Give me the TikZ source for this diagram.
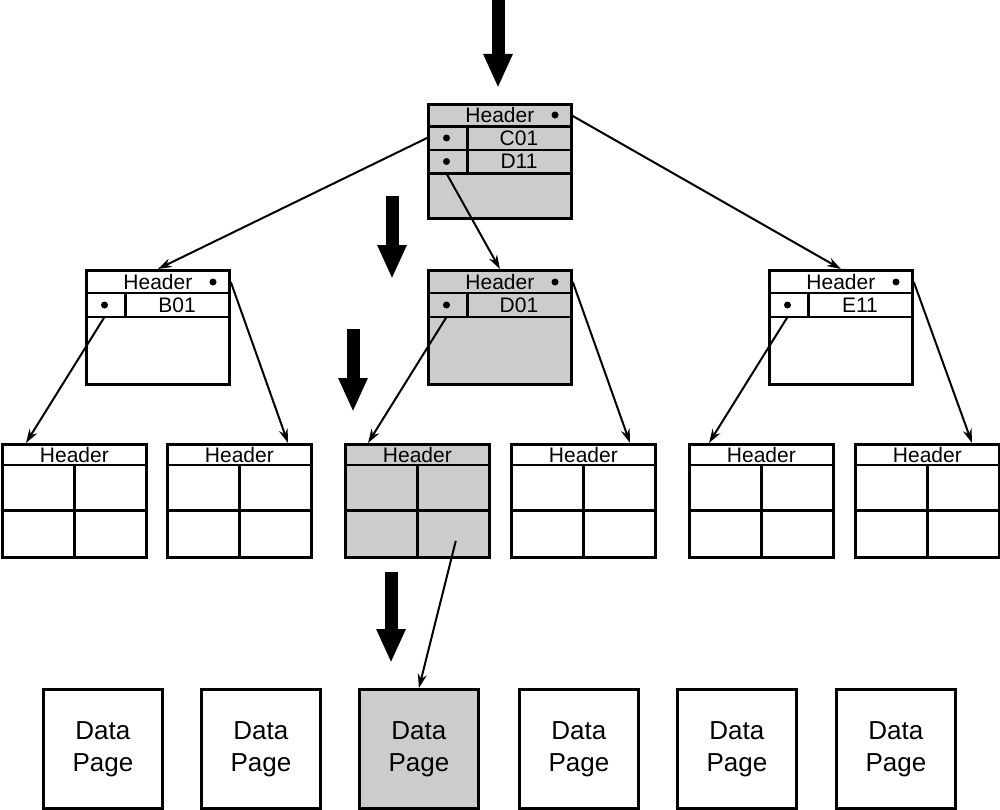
\documentclass[tikz,border=0pt]{standalone}
\usepackage{fontspec}
\setmainfont{Liberation Sans}
\usetikzlibrary{arrows.meta,calc,positioning}

\tikzset{
  ipage/.style={draw,line width=2.8pt,minimum width=143pt,minimum height=114pt,inner sep=0pt,anchor=north west},
  leaf/.style={draw,line width=2.8pt,minimum width=144pt,minimum height=113pt,inner sep=0pt,anchor=north west},
  datapage/.style={draw,line width=2.8pt,minimum width=119pt,minimum height=119pt,inner sep=0pt,anchor=north west,align=center,font=\fontsize{26}{32}\selectfont},
  txt/.style={inner sep=0pt,font=\fontsize{21}{24}\selectfont},
  rule/.style={line width=2.8pt},
  ptr/.style={circle,fill=black,inner sep=0pt,minimum size=7pt},
  link/.style={line width=2pt,-{Stealth[length=14pt,width=9pt]}},
  bigarrow/.style={line width=13pt,-{Triangle[length=34pt,width=27pt]}},
}

\begin{document}
\begin{tikzpicture}[x=1pt,y=-1pt]
  \useasboundingbox (0,0) rectangle (1000,810);

  % root page
  \node[ipage,fill=black!20] (root) at (427,103) {};
  \draw[rule] ($(root.north west)+(0,23.5)$) -- ($(root.north east)+(0,23.5)$);
  \draw[rule] ($(root.north west)+(0,47)$) -- ($(root.north east)+(0,47)$);
  \draw[rule] ($(root.north west)+(0,70.5)$) -- ($(root.north east)+(0,70.5)$);
  \draw[rule] ($(root.north west)+(40.5,23.5)$) -- ($(root.north west)+(40.5,70.5)$);
  \node[txt] (root-h) at ($(root.north)+(0,12)$) {Header};
  \node[ptr] (root-hp) at ($(root.north west)+(128,12)$) {};
  \node[ptr] (root-p1) at ($(root.north west)+(19.5,35)$) {};
  \node[txt] (root-k1) at ($(root.north west)+(92,35)$) {C01};
  \node[ptr] (root-p2) at ($(root.north west)+(19.5,58.5)$) {};
  \node[txt] (root-k2) at ($(root.north west)+(92,58.5)$) {D11};

  % intermediate pages
  \foreach \n/\x/\k/\c in {a/85/B01/white,b/427/D01/black!20,c/768/E11/white}{
    \node[ipage,fill=\c] (\n) at (\x,269) {};
    \draw[rule] ($(\n.north west)+(0,24)$) -- ($(\n.north east)+(0,24)$);
    \draw[rule] ($(\n.north west)+(0,48)$) -- ($(\n.north east)+(0,48)$);
    \draw[rule] ($(\n.north west)+(40.5,24)$) -- ($(\n.north west)+(40.5,48)$);
    \node[txt] (\n-h) at ($(\n.north)+(0,12.5)$) {Header};
    \node[ptr] (\n-hp) at ($(\n.north west)+(128,13)$) {};
    \node[ptr] (\n-p) at ($(\n.north west)+(19.5,36)$) {};
    \node[txt] (\n-k) at ($(\n.north west)+(92,36)$) {\k};
  }

  % leaf pages
  \foreach \i/\x/\c in {1/1/white,2/166/white,3/344/black!20,4/510/white,5/688/white,6/854/white}{
    \node[leaf,fill=\c] (l\i) at (\x,443) {};
    \draw[rule] ($(l\i.north west)+(0,22)$) -- ($(l\i.north east)+(0,22)$);
    \draw[rule] ($(l\i.north west)+(0,67.5)$) -- ($(l\i.north east)+(0,67.5)$);
    \draw[rule] ($(l\i.north)+(0,22)$) -- (l\i.south);
    \node[txt] (l\i-h) at ($(l\i.north)+(0,11.5)$) {Header};
  }

  % data pages
  \foreach \i/\x/\c in {1/42/white,2/200/white,3/358/black!20,4/518/white,5/676/white,6/835/white}
    \node[datapage,fill=\c] (d\i) at (\x,688) {Data\\Page};

  % pointers
  \draw[link] ($(root.north east)+(0,13)$) -- (c.north);
  \draw[link] ($(root.north west)+(0,35)$) -- (a.north);
  \draw[link] ($(root-p2)+(0,12)$) -- (b.north);
  \draw[link] ($(a-p)+(0,12)$) -- ($(l1.north west)+(25,0)$);
  \draw[link] ($(a.north east)+(0,13)$) -- ($(l2.north west)+(122,0)$);
  \draw[link] ($(b-p)+(0,12)$) -- ($(l3.north west)+(24,0)$);
  \draw[link] ($(b.north east)+(0,13)$) -- ($(l4.north west)+(120,0)$);
  \draw[link] ($(c-p)+(0,12)$) -- ($(l5.north west)+(21,0)$);
  \draw[link] ($(c.north east)+(0,13)$) -- ($(l6.north west)+(118,0)$);
  \draw[link] ($(l3.south east)+(-35,-18)$) -- (d3.north);

  % search path
  \draw[bigarrow] (498,0) -- (498,88);
  \draw[bigarrow] (392,196) -- (392,279);
  \draw[bigarrow] (353,329) -- (353,412);
  \draw[bigarrow] (391,572) -- (391,663);
\end{tikzpicture}
\end{document}
